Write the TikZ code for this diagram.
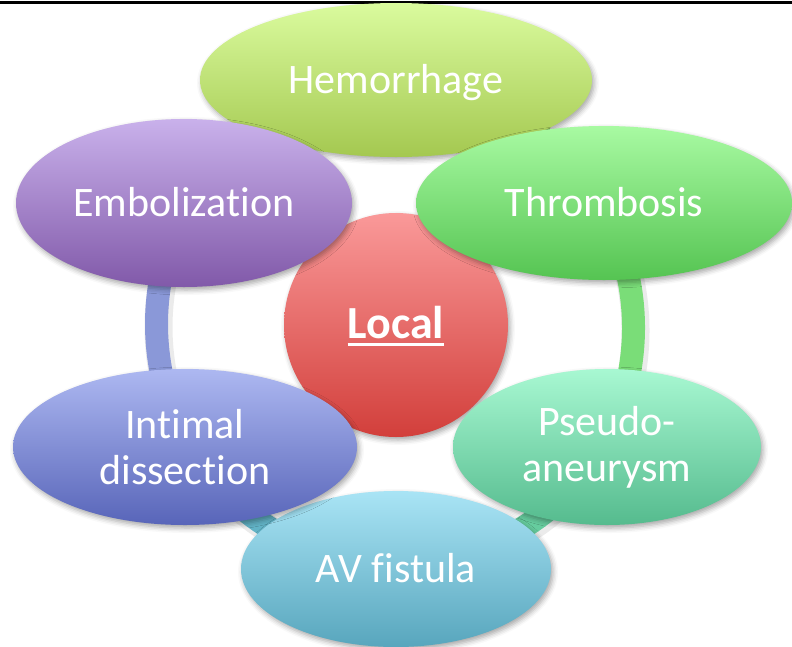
\documentclass[tikz,border=0pt]{standalone}
\usepackage{fontspec}
\setmainfont[Ligatures=NoCommon]{Carlito}
\usetikzlibrary{shapes.geometric,shadows.blur,calc}
\pgfdeclarelayer{bg}
\pgfsetlayers{bg,main}
\definecolor{hemT}{HTML}{DAFB9E}\definecolor{hemB}{HTML}{A4C850}
\definecolor{thrT}{HTML}{A8FAA2}\definecolor{thrB}{HTML}{55C452}
\definecolor{embT}{HTML}{C9B1EB}\definecolor{embB}{HTML}{8159A9}
\definecolor{intT}{HTML}{ADB8F1}\definecolor{intB}{HTML}{5865B9}
\definecolor{pseT}{HTML}{A8F8D2}\definecolor{pseB}{HTML}{55BB8E}
\definecolor{avT}{HTML}{A9E4F5}\definecolor{avB}{HTML}{58A6BD}
\definecolor{locT}{HTML}{FA9999}\definecolor{locB}{HTML}{D23F3B}
\definecolor{rgLeft}{HTML}{8A98D8}
\definecolor{rgRight}{HTML}{7ADD78}
\definecolor{rgBL}{HTML}{62B3C6}
\definecolor{rgBR}{HTML}{66CC9E}
\definecolor{rgTR}{HTML}{9ED86A}
\definecolor{rgTL}{HTML}{B8A0E0}
\begin{document}
\begin{tikzpicture}[x=1pt,y=-1pt,
  softshadow/.style={blur shadow={shadow xshift=2pt, shadow yshift=-3pt, shadow opacity=35, shadow blur radius=5pt}},
  bub/.style={ellipse, inner sep=0pt, text=white, align=center,
    font=\fontsize{42}{46}\selectfont, softshadow},
  oneline/.style={text height=27pt, text depth=0pt},
  ringseg/.style={line width=23pt, bend right=23},
  ringshade/.style={line width=28pt, bend right=23, black, opacity=0.08}
]
\useasboundingbox (0,0) rectangle (792,646);
\draw[line width=3pt] (0,2) -- (792,2);

% centre circle
\node[circle, minimum size=224pt, inner sep=0pt, top color=locT, bottom color=locB, softshadow] (local) at (396,325) {};
\node[anchor=base, inner sep=0pt, text=white, font=\fontsize{46}{50}\selectfont\bfseries] (loctxt) at (396,338) {Local};
\draw[white, line width=2.6pt] ($(loctxt.base west)+(0,6.5)$) -- ($(loctxt.base east)+(0,6.5)$);

% outer ellipses
\node[bub, oneline, minimum width=392pt, minimum height=154pt, top color=hemT, bottom color=hemB] (hem) at (396,80) {Hemorrhage};
\node[bub, oneline, minimum width=376pt, minimum height=154pt, top color=thrT, bottom color=thrB] (thr) at (604,203) {Thrombosis};
\node[bub, minimum width=308pt, minimum height=156pt, top color=pseT, bottom color=pseB] (pse) at (607,447) {Pseudo-\\aneurysm};
\node[bub, oneline, minimum width=310pt, minimum height=156pt, top color=avT, bottom color=avB] (av) at (396,569) {AV fistula};
\node[bub, minimum width=344pt, minimum height=156pt, top color=intT, bottom color=intB] (int) at (185,447) {Intimal\\dissection};
\node[bub, oneline, minimum width=336pt, minimum height=168pt, top color=embT, bottom color=embB] (emb) at (184,203) {Embolization};

% ring behind everything
\begin{pgfonlayer}{bg}
  \draw[ringshade] ($(emb.center)+(2,3)$) to ($(int.center)+(2,3)$);
  \draw[ringshade] ($(pse.center)+(2,3)$) to ($(thr.center)+(2,3)$);
  \draw[ringshade] ($(int.center)+(2,3)$) to ($(av.center)+(2,3)$);
  \draw[ringshade] ($(av.center)+(2,3)$) to ($(pse.center)+(2,3)$);
  \draw[ringseg, rgTL] (hem.center) to (emb.center);
  \draw[ringseg, rgTR] (thr.center) to (hem.center);
  \draw[ringseg, rgLeft] (emb.center) to (int.center);
  \draw[ringseg, rgBL] (int.center) to (av.center);
  \draw[ringseg, rgBR] (av.center) to (pse.center);
  \draw[ringseg, rgRight] (pse.center) to (thr.center);
\end{pgfonlayer}
\end{tikzpicture}
\end{document}
